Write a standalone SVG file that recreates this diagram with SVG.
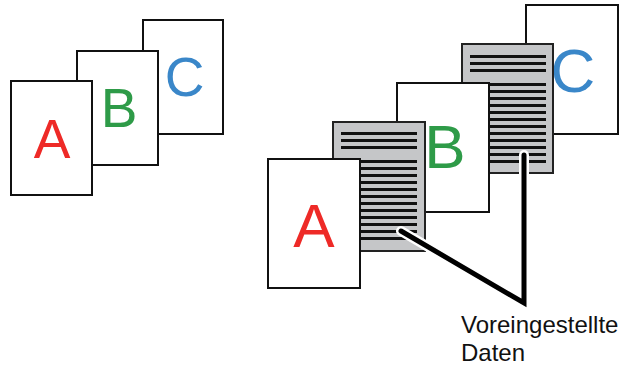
<svg xmlns="http://www.w3.org/2000/svg" width="620" height="365" viewBox="0 0 620 365">
<defs>
<style>
.page{fill:#ffffff;stroke:#111111;stroke-width:2}
.gray{fill:#c5c6c8;stroke:#222222;stroke-width:2}
.ln{fill:#111111}
.big{font-family:"Liberation Sans",Arial,sans-serif;text-anchor:middle}
.a{fill:#ee2a27}
.b{fill:#2e9b48}
.c{fill:#3a87c9}
.lbl{font-family:"Liberation Sans",Arial,sans-serif;font-size:24px;fill:#111111}
.halo{fill:none;stroke:#ffffff;stroke-width:10;stroke-linecap:round;stroke-linejoin:round}
.wire{fill:none;stroke:#000000;stroke-width:5;stroke-linecap:round;stroke-linejoin:miter}
</style>
<g id="lines">
<rect class="ln" x="0" y="10" width="76" height="3"/>
<rect class="ln" x="0" y="17" width="76" height="3"/>
<rect class="ln" x="0" y="24" width="76" height="3"/>
<rect class="ln" x="0" y="38" width="76" height="3"/>
<rect class="ln" x="0" y="45" width="76" height="3"/>
<rect class="ln" x="0" y="52" width="76" height="3"/>
<rect class="ln" x="0" y="59" width="76" height="3"/>
<rect class="ln" x="0" y="66" width="76" height="3"/>
<rect class="ln" x="0" y="73" width="76" height="3"/>
<rect class="ln" x="0" y="80" width="76" height="3"/>
<rect class="ln" x="0" y="87" width="76" height="3"/>
<rect class="ln" x="0" y="94" width="76" height="3"/>
<rect class="ln" x="0" y="101" width="76" height="3"/>
<rect class="ln" x="0" y="108" width="76" height="3"/>
<rect class="ln" x="0" y="115" width="76" height="3"/>
</g>
</defs>
<rect width="620" height="365" fill="#ffffff"/>

<!-- left set -->
<g id="left-C">
<rect class="page" x="143" y="20" width="80" height="114"/>
<text class="big c" x="184.5" y="96" font-size="55">C</text>
</g>
<g id="left-B">
<rect class="page" x="77" y="51" width="81" height="114"/>
<text class="big b" x="119" y="126.5" font-size="55">B</text>
</g>
<g id="left-A">
<rect class="page" x="11" y="81" width="81" height="114"/>
<text class="big a" x="52" y="158" font-size="55">A</text>
</g>

<!-- right set -->
<g id="right-C">
<rect class="page" x="526" y="5" width="92" height="129"/>
<text class="big c" x="573" y="92" font-size="62">C</text>
</g>
<g id="right-gray2">
<rect class="gray" x="462" y="44" width="91" height="129"/>
<use href="#lines" x="470" y="45"/>
</g>
<g id="right-B">
<rect class="page" x="397" y="83" width="92" height="129"/>
<text class="big b" x="445" y="168" font-size="62">B</text>
</g>
<g id="right-gray1">
<rect class="gray" x="333" y="122" width="92" height="129"/>
<use href="#lines" x="341" y="122"/>
</g>
<g id="right-A">
<rect class="page" x="268" y="159" width="92" height="129"/>
<text class="big a" x="314" y="246.5" font-size="62">A</text>
</g>

<g id="connectors">
<polyline class="halo" points="401,231 524,303 524,155"/>
<polyline class="wire" points="401,231 524,303 524,155"/>
</g>

<g id="label">
<text class="lbl" x="461" y="333">Voreingestellte</text>
<text class="lbl" x="461" y="361">Daten</text>
</g>
</svg>
